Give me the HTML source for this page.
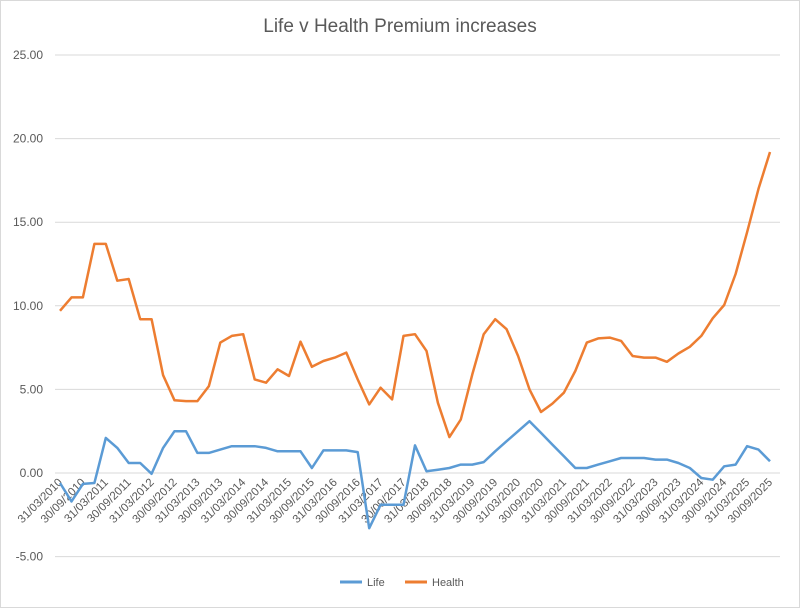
<!DOCTYPE html>
<html><head><meta charset="utf-8"><style>
body{margin:0;background:#fff;}
svg{display:block;font-family:"Liberation Sans",sans-serif;}
</style></head><body>
<svg id="chart" width="800" height="608" xmlns="http://www.w3.org/2000/svg">
<rect x="0.5" y="0.5" width="799" height="607" fill="#fff" stroke="#d9d9d9"/>
<text x="400" y="32" text-anchor="middle" font-size="19" fill="#595959">Life v Health Premium increases</text>
<g id="grid"></g><g id="ylabels"></g><g id="xlabels"></g><g id="series"></g>
<g>
<line x1="340" y1="582" x2="362" y2="582" stroke="#5b9bd5" stroke-width="3"/>
<text x="367" y="586" font-size="11" fill="#595959">Life</text>
<line x1="405" y1="582" x2="427" y2="582" stroke="#ed7d31" stroke-width="3"/>
<text x="432" y="586" font-size="11" fill="#595959">Health</text>
</g>
</svg>
<script>
const yTicks=[-5,0,5,10,15,20,25];
const yTickLabels=["-5.00","0.00","5.00","10.00","15.00","20.00","25.00"];
const health=[9.7,10.5,10.5,13.7,13.7,11.5,11.6,9.2,9.2,5.85,4.35,4.3,4.3,5.2,7.8,8.2,8.3,5.6,5.4,6.2,5.8,7.85,6.35,6.7,6.9,7.2,5.6,4.1,5.1,4.4,8.2,8.3,7.3,4.2,2.15,3.2,5.9,8.3,9.2,8.6,7.0,5.0,3.65,4.15,4.8,6.1,7.8,8.05,8.1,7.9,7.0,6.9,6.9,6.65,7.15,7.55,8.2,9.25,10.05,11.9,14.4,17.0,19.2];
const life=[-0.6,-1.7,-0.65,-0.6,2.1,1.5,0.6,0.6,-0.05,1.5,2.5,2.5,1.2,1.2,1.4,1.6,1.6,1.6,1.5,1.3,1.3,1.3,0.3,1.35,1.35,1.35,1.25,-3.3,-1.9,-1.9,-1.9,1.65,0.1,0.2,0.3,0.5,0.5,0.65,1.3,1.9,2.5,3.1,2.4,1.7,1.0,0.3,0.3,0.5,0.7,0.9,0.9,0.9,0.8,0.8,0.6,0.3,-0.3,-0.4,0.4,0.5,1.6,1.4,0.7];
const xLabels=[];
for(let yr=2010;yr<=2025;yr++){xLabels.push("31/03/"+yr);xLabels.push("30/09/"+yr);}
const NS="http://www.w3.org/2000/svg";
const y=v=>473-v*16.72;
const x=i=>60+i*(710/62);
function mk(t,a,p){const e=document.createElementNS(NS,t);for(const k in a)e.setAttribute(k,a[k]);document.getElementById(p).appendChild(e);return e;}
yTicks.forEach((v,i)=>{
 const g=mk('line',{x1:55,x2:780,y1:y(v),y2:y(v),stroke:'#d9d9d9','stroke-width':1},'grid');
 
 
 const t=mk('text',{x:43,y:y(v)+4,'text-anchor':'end','font-size':12,fill:'#595959'},'ylabels');
 t.textContent=yTickLabels[i];
 
 
});
xLabels.forEach((s,k)=>{
 const px=x(k*2)+3,py=483;
 const t=mk('text',{x:px,y:py,'text-anchor':'end','font-size':11.5,fill:'#595959',transform:`rotate(-45 ${px} ${py})`},'xlabels');
 t.textContent=s;
 
 
});
function line(d,c,name){
 const p=mk('polyline',{points:d.map((v,i)=>x(i).toFixed(1)+','+y(v).toFixed(1)).join(' '),fill:'none',stroke:c,'stroke-width':2.5,'stroke-linejoin':'round'},'series');
 
 
}
line(life,'#5b9bd5','life-line');
line(health,'#ed7d31','health-line');
</script>
</body></html>
